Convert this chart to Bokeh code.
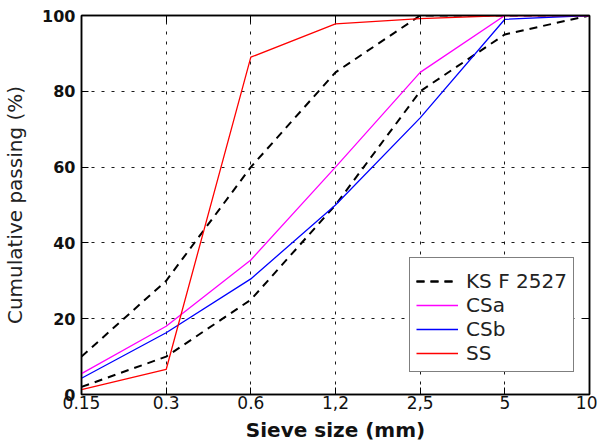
from bokeh.plotting import figure
from bokeh.models import Range1d, FixedTicker, LinearAxis, Legend, LegendItem
from bokeh.embed import file_html
from bokeh.resources import INLINE

sieve_labels = ["0.15", "0.3", "0.6", "1,2", "2,5", "5", "10"]
ks_upper = [10, 30, 60, 85, 100, 100, 100]
ks_lower = [2, 10, 25, 50, 80, 95, 100]
csa = [5.5, 18, 35.5, 60, 85, 100, 100]
csb = [4.3, 16.3, 30.5, 50, 73, 99, 100]
ss = [1.3, 6.6, 89, 97.8, 99.2, 100, 100]
y_ticks = [0, 20, 40, 60, 80, 100]

xs = list(range(len(sieve_labels)))
x_max = xs[-1]
y_max = y_ticks[-1]

p = figure(width=597, height=446, output_backend="svg", toolbar_location=None,
           x_range=Range1d(0, x_max), y_range=Range1d(0, y_max),
           min_border_left=78, min_border_right=8, min_border_top=15, min_border_bottom=52)
p.background_fill_color = "white"
p.border_fill_color = "white"
p.outline_line_color = "black"
p.outline_line_width = 1.5

font = "DejaVu Sans"

# axes
xa = p.xaxis[0]
ya = p.yaxis[0]
xa.ticker = FixedTicker(ticks=xs)
xa.major_label_overrides = {i: s for i, s in enumerate(sieve_labels)}
ya.ticker = FixedTicker(ticks=y_ticks)
for ax in (xa, ya):
    ax.major_tick_in = 7
    ax.major_tick_out = 0
    ax.minor_tick_in = 0
    ax.minor_tick_out = 0
    ax.axis_line_width = 1.5
    ax.axis_line_color = "black"
    ax.major_tick_line_color = "black"
    ax.major_label_text_color = "#111111"
    ax.axis_label_text_color = "#111111"
    ax.major_label_text_font = font
    ax.axis_label_text_font = font

xa.major_label_text_font_size = "17px"
xa.major_label_text_font_style = "normal"
xa.major_label_standoff = 1
xa.axis_label = "Sieve size (mm)"
xa.axis_label_text_font_size = "20px"
xa.axis_label_text_font_style = "bold"
xa.axis_label_standoff = 6

ya.major_label_text_font_size = "16px"
ya.major_label_text_font_style = "bold"
ya.major_label_standoff = 6
ya.axis_label = "Cumulative passing (%)"
ya.axis_label_text_font_size = "20px"
ya.axis_label_text_font_style = "normal"
ya.axis_label_text_color = "#222222"
ya.axis_label_standoff = 12

# box-style tick marks on the top and right borders (no labels drawn)
top = LinearAxis(ticker=FixedTicker(ticks=xs), major_tick_in=7, major_tick_out=0,
                 minor_tick_in=0, minor_tick_out=0, major_label_text_font_size="1px",
                 major_label_text_color=None, major_label_standoff=0,
                 axis_line_width=1.5, axis_line_color="black")
right = LinearAxis(ticker=FixedTicker(ticks=y_ticks), major_tick_in=7, major_tick_out=0,
                   minor_tick_in=0, minor_tick_out=0, major_label_text_font_size="1px",
                   major_label_text_color=None, major_label_standoff=0,
                   axis_line_width=1.5, axis_line_color="black")
p.add_layout(top, "above")
p.add_layout(right, "right")

# grid
for g in (p.xgrid[0], p.ygrid[0]):
    g.grid_line_color = "black"
    g.grid_line_dash = "3 7"
    g.grid_line_width = 1
    g.grid_line_alpha = 0.9
p.xgrid[0].ticker = FixedTicker(ticks=xs)
p.ygrid[0].ticker = FixedTicker(ticks=y_ticks)

# series
r_up = p.line(xs, ks_upper, line_color="black", line_width=2, line_dash="8 6")
r_lo = p.line(xs, ks_lower, line_color="black", line_width=2, line_dash="8 6")
r_a = p.line(xs, csa, line_color="#ff00ff", line_width=1.3)
r_b = p.line(xs, csb, line_color="#0000ff", line_width=1.3)
r_s = p.line(xs, ss, line_color="#ff0000", line_width=1.3)

legend = Legend(items=[
    LegendItem(label="KS F 2527", renderers=[r_up, r_lo]),
    LegendItem(label="CSa", renderers=[r_a]),
    LegendItem(label="CSb", renderers=[r_b]),
    LegendItem(label="SS", renderers=[r_s]),
], location=(328, 22))
legend.title = " "
legend.title_text_font_size = "4px"
legend.title_standoff = 0
legend.padding = 6
legend.margin = 0
legend.spacing = 0
legend.label_height = 22
legend.glyph_height = 22
legend.glyph_width = 42
legend.label_standoff = 8
legend.label_text_font = font
legend.label_text_font_size = "20px"
legend.label_text_color = "#222222"
legend.border_line_color = "black"
legend.border_line_width = 1.5
legend.background_fill_color = "white"
legend.background_fill_alpha = 1
p.add_layout(legend, "center")

open("out.html", "w").write(file_html(p, INLINE))
